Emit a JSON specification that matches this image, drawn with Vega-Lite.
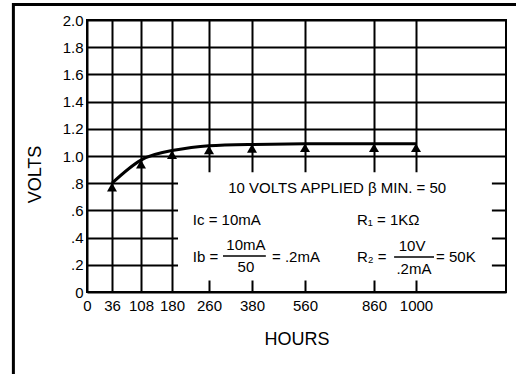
{
  "$schema": "https://vega.github.io/schema/vega-lite/v6.json",
  "width": 419,
  "height": 272,
  "autosize": "none",
  "padding": {"left": 87, "top": 20, "right": 10, "bottom": 82},
  "background": "white",
  "config": {
    "font": "Liberation Sans",
    "view": {"stroke": "black", "strokeWidth": 2},
    "axis": {
      "grid": true, "gridColor": "black", "gridWidth": 2, "gridOpacity": 1,
      "ticks": false, "domain": false, "zindex": 0,
      "labelFont": "Liberation Sans", "labelFontSize": 15, "labelColor": "black",
      "titleFont": "Liberation Sans", "titleFontSize": 18, "titleFontWeight": "normal", "titleColor": "black",
      "labelFlush": false, "labelOverlap": false
    },
    "axisX": {"labelPadding": 6, "titlePadding": 17},
    "axisY": {"labelPadding": 4, "titleX": -52, "titleY": 154, "titleBaseline": "middle"}
  },
  "datasets": {
    "curve": [
      {"hours": 36, "volts": 0.8},
      {"hours": 108, "volts": 0.97},
      {"hours": 180, "volts": 1.04},
      {"hours": 260, "volts": 1.075},
      {"hours": 380, "volts": 1.085},
      {"hours": 560, "volts": 1.09},
      {"hours": 860, "volts": 1.09},
      {"hours": 1000, "volts": 1.09}
    ],
    "box": [
      {"hours": 193, "hours2": 1253, "volts": 0.88, "volts2": 0.085}
    ],
    "frame": [
      {"hours": -106, "hours2": 1600, "volts": 2.114, "volts2": -1}
    ],
    "centerText": [
      {"hours": 700, "volts": 0.765, "label": "10 VOLTS APPLIED β MIN. = 50"},
      {"hours": 363, "volts": 0.345, "label": "10mA"},
      {"hours": 363, "volts": 0.184, "label": "50"},
      {"hours": 987, "volts": 0.34, "label": "10V"},
      {"hours": 993, "volts": 0.17, "label": ".2mA"}
    ],
    "leftText": [
      {"hours": 225, "volts": 0.53, "label": "Ic = 10mA"},
      {"hours": 786, "volts": 0.53, "label": "R₁ = 1KΩ"},
      {"hours": 225, "volts": 0.257, "label": "Ib ="},
      {"hours": 448, "volts": 0.257, "label": "= .2mA"},
      {"hours": 786, "volts": 0.257, "label": "R₂ ="},
      {"hours": 1067, "volts": 0.257, "label": "= 50K"}
    ],
    "bars": [
      {"hours": 299, "hours2": 427, "volts": 0.265},
      {"hours": 927, "hours2": 1060, "volts": 0.257}
    ]
  },
  "encoding": {
    "x": {
      "field": "hours", "type": "quantitative",
      "scale": {"domain": [0, 36, 108, 180, 260, 380, 560, 860, 1000, 1300], "range": [0, 25, 54, 85, 122, 165, 218, 287, 329, 419], "nice": false, "zero": false},
      "axis": {"values": [0, 36, 108, 180, 260, 380, 560, 860, 1000], "format": "d", "title": "HOURS"}
    },
    "y": {
      "field": "volts", "type": "quantitative",
      "scale": {"domain": [0, 2], "nice": false, "zero": false},
      "axis": {
        "values": [0, 0.2, 0.4, 0.6, 0.8, 1.0, 1.2, 1.4, 1.6, 1.8, 2.0],
        "title": "VOLTS",
        "labelExpr": "datum.value == 0 ? '0' : (datum.value < 0.99 ? replace(format(datum.value, '.1f'), '0.', '.') : format(datum.value, '.1f'))"
      }
    }
  },
  "layer": [
    {
      "data": {"name": "box"},
      "mark": {"type": "rect", "fill": "white", "strokeWidth": 0},
      "encoding": {"x2": {"field": "hours2"}, "y2": {"field": "volts2"}}
    },
    {
      "data": {"name": "curve"},
      "mark": {"type": "line", "interpolate": "natural", "color": "black", "strokeWidth": 3}
    },
    {
      "data": {"name": "curve"},
      "mark": {"type": "point", "shape": "triangle-up", "filled": true, "color": "black", "size": 100, "opacity": 1, "yOffset": 4}
    },
    {
      "data": {"name": "centerText"},
      "mark": {"type": "text", "font": "Liberation Sans", "fontSize": 15, "color": "black", "align": "center", "baseline": "middle"},
      "encoding": {"text": {"field": "label"}}
    },
    {
      "data": {"name": "leftText"},
      "mark": {"type": "text", "font": "Liberation Sans", "fontSize": 15, "color": "black", "align": "left", "baseline": "middle"},
      "encoding": {"text": {"field": "label"}}
    },
    {
      "data": {"name": "bars"},
      "mark": {"type": "rule", "color": "black", "strokeWidth": 1.5},
      "encoding": {"x2": {"field": "hours2"}}
    },
    {
      "data": {"name": "frame"},
      "mark": {"type": "rect", "fillOpacity": 0, "stroke": "black", "strokeWidth": 3, "clip": false},
      "encoding": {"x2": {"field": "hours2"}, "y2": {"field": "volts2"}}
    }
  ]
}
